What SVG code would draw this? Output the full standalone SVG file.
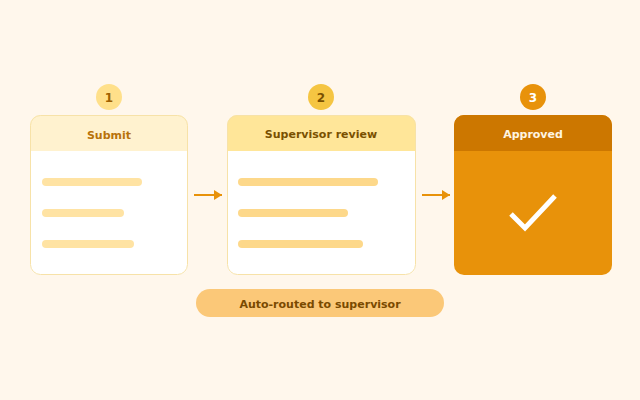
<svg xmlns="http://www.w3.org/2000/svg" width="640" height="400" viewBox="0 0 640 400">
<defs>
<style>
.t{font-family:"DejaVu Sans",sans-serif;font-weight:bold;font-size:11px;text-anchor:middle}
.bar{fill:#ffe3a3}
.bar2{fill:#fdd88a}
</style>
<marker id="ah" viewBox="0 0 8 10" refX="8" refY="5" markerWidth="4" markerHeight="5" orient="auto" markerUnits="strokeWidth">
<path d="M0,0 L8,5 L0,10 z" fill="#e8920a"/>
</marker>
<clipPath id="c1"><rect x="30" y="115" width="158" height="160" rx="10"/></clipPath>
<clipPath id="c2"><rect x="227" y="115" width="189" height="160" rx="10"/></clipPath>
<clipPath id="c3"><rect x="454" y="115" width="158" height="160" rx="10"/></clipPath>
</defs>
<rect width="640" height="400" fill="#fff7ec"/>
<g id="step1">
<circle cx="109" cy="97" r="13" fill="#ffe08a"/>
<text class="t" x="109" y="101.5" fill="#a06000" style="font-size:12px">1</text>
<rect x="30" y="115" width="158" height="160" rx="10" fill="#ffffff"/>
<rect x="30" y="115" width="158" height="36" fill="#fff2cf" clip-path="url(#c1)"/>
<rect x="30.5" y="115.5" width="157" height="159" rx="10" fill="none" stroke="#f7e2a8" stroke-width="1"/>
<text class="t" x="109" y="139" fill="#b8720a">Submit</text>
<rect class="bar" x="42" y="178" width="100" height="8" rx="4"/>
<rect class="bar" x="42" y="209" width="82" height="8" rx="4"/>
<rect class="bar" x="42" y="240" width="92" height="8" rx="4"/>
</g>
<g id="step2">
<circle cx="321" cy="97" r="13" fill="#f5c542"/>
<text class="t" x="321" y="101.5" fill="#7a5000" style="font-size:12px">2</text>
<rect x="227" y="115" width="189" height="160" rx="10" fill="#ffffff"/>
<rect x="227" y="115" width="189" height="36" fill="#ffe699" clip-path="url(#c2)"/>
<rect x="227.5" y="115.5" width="188" height="159" rx="10" fill="none" stroke="#f7e2a8" stroke-width="1"/>
<text class="t" x="321" y="138" fill="#7a5000">Supervisor review</text>
<rect class="bar2" x="238" y="178" width="140" height="8" rx="4"/>
<rect class="bar2" x="238" y="209" width="110" height="8" rx="4"/>
<rect class="bar2" x="238" y="240" width="125" height="8" rx="4"/>
</g>
<g id="step3">
<circle cx="533" cy="97" r="13" fill="#e8920a"/>
<text class="t" x="533" y="101.5" fill="#ffffff" style="font-size:12px">3</text>
<rect x="454" y="115" width="158" height="160" rx="10" fill="#e8920a"/>
<rect x="454" y="115" width="158" height="36" fill="#cc7700" clip-path="url(#c3)"/>
<text class="t" x="533" y="138" fill="#fff5e0">Approved</text>
<path d="M511,214 L525,228 L555,196" fill="none" stroke="#ffffff" stroke-width="5"/>
</g>
<g id="connectors">
<line x1="194" y1="195" x2="222" y2="195" stroke="#e8920a" stroke-width="2" marker-end="url(#ah)"/>
<line x1="422" y1="195" x2="450" y2="195" stroke="#e8920a" stroke-width="2" marker-end="url(#ah)"/>
</g>
<g id="note">
<rect x="196" y="289" width="248" height="28" rx="14" fill="#fbc878"/>
<text class="t" x="320" y="308" fill="#7a4a00">Auto-routed to supervisor</text>
</g>
</svg>
